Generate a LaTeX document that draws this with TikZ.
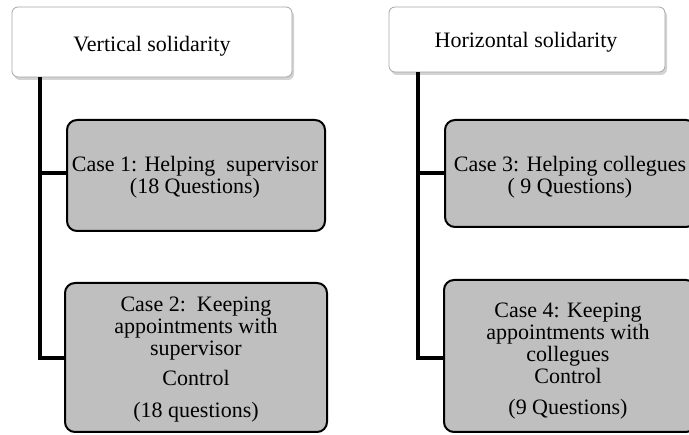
\documentclass[tikz,border=0pt]{standalone}
\usepackage{fontspec}
\setmainfont{Liberation Serif}
\usetikzlibrary{shadows}
\begin{document}
\begin{tikzpicture}[x=1pt,y=-1pt,
  head/.style={draw=gray!70, line width=0.8pt, fill=white, rounded corners=6pt,
    drop shadow={shadow xshift=2pt, shadow yshift=-3pt, opacity=0.35, fill=gray}},
  casebox/.style={draw=black, line width=2pt, fill=gray!50, rounded corners=10pt},
  conn/.style={line width=4pt, draw=black},
  txt/.style={align=center, font=\fontsize{22}{22}\selectfont, inner sep=0pt}]
\useasboundingbox (0,0) rectangle (689,435);
% left column
\path[head] (12,7) rectangle (292,77);
\node[txt] (vs) at (152,46) {Vertical solidarity};
\path[casebox] (67,120) rectangle (325,231);
\node[txt] (c1) at (195,177) {Case 1: Helping\ \ supervisor\\(18 Questions)};
\path[casebox] (65,283) rectangle (327,432);
\node[txt] (c2) at (196,360) {Case 2:\ \ Keeping\\appointments with\\supervisor\\[8pt]Control\\[10pt](18 questions)};
\coordinate (la) at (40,77);
\coordinate (lb) at (40,358);
\draw[conn] (la) -- (lb) -- (66,358);
\draw[conn] (40,173) -- (68,173);
% right column
\path[head] (389,7) rectangle (665,72);
\node[txt] (hs) at (526,42) {Horizontal solidarity};
\path[casebox] (445,120) rectangle (696,227);
\node[txt] (c3) at (570,177) {Case 3: Helping collegues\\( 9 Questions)};
\path[casebox] (444,280) rectangle (696,432);
\node[txt] (c4) at (568,361) {Case 4: Keeping\\appointments with\\collegues\\Control\\[9pt](9 Questions)};
\coordinate (ra) at (418,72);
\coordinate (rb) at (418,358);
\draw[conn] (ra) -- (rb) -- (445,358);
\draw[conn] (418,173) -- (446,173);
\end{tikzpicture}
\end{document}
